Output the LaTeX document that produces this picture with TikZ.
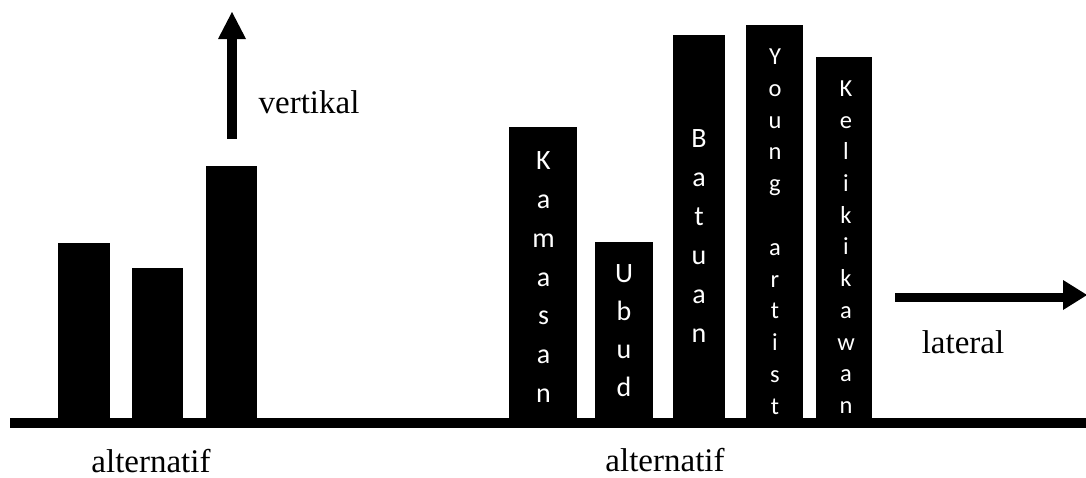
\documentclass[tikz,border=0pt]{standalone}
\usepackage{fontspec}
\setmainfont{Liberation Serif}
\newfontfamily\barfont{Carlito}
\begin{document}
\begin{tikzpicture}[x=1pt,y=-1pt,
  label/.style={font=\fontsize{33}{38}\selectfont, anchor=base, inner sep=0pt},
  barlabel/.style={text=white, align=center, anchor=north, inner sep=0pt},
  big/.style={font=\barfont\fontsize{28}{#1}\selectfont},
  small/.style={font=\barfont\fontsize{24.5}{#1}\selectfont}]
\useasboundingbox[fill=white] (0,0) rectangle (1086,477);

% ground line
\fill (10,418) rectangle (1086,428);

% left group of bars
\fill (58,243) rectangle (110,419);
\fill (132,268) rectangle (183,419);
\fill (206,166) rectangle (257,419);

% vertical arrow
\fill (227,38) rectangle (237,139);
\fill (218,39) -- (246,39) -- (232,12) -- cycle;
\node[label] (vert) at (309,113) {vertikal};

% right group of bars
\fill (509,127) rectangle (577,419);
\fill (595,242) rectangle (653,419);
\fill (673,35) rectangle (725,419);
\fill (746,25) rectangle (803,419);
\fill (816,57) rectangle (872,419);

\node[barlabel, big=38.8] (kamasan) at (543.5,151.5) {K\\a\\m\\a\\s\\a\\n};
\node[barlabel, big=38] (ubud) at (624,264) {U\\b\\u\\d};
\node[barlabel, big=39] (batuan) at (699,129.5) {B\\a\\t\\u\\a\\n};
\node[barlabel, small=31.8] (young) at (775,48.5) {Y\\o\\u\\n\\g\\~\\a\\r\\t\\i\\s\\t};
\node[barlabel, small=31.7] (keliki) at (846,80.5) {K\\e\\l\\i\\k\\i\\k\\a\\w\\a\\n};

% lateral arrow
\fill (895,293) rectangle (1064,302);
\fill (1063,280) -- (1063,310) -- (1087,295) -- cycle;
\node[label] (lat) at (963,353) {lateral};

% axis captions
\node[label] (altL) at (151,472) {alternatif};
\node[label] (altR) at (665,471) {alternatif};
\end{tikzpicture}
\end{document}
